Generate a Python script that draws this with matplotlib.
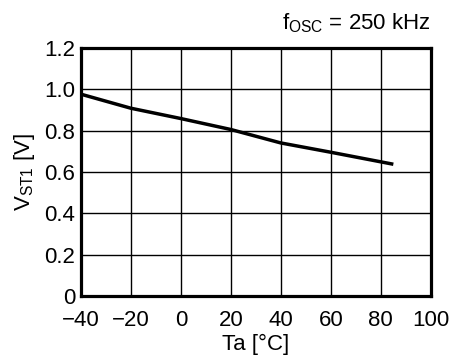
import numpy as np
import matplotlib
matplotlib.use("Agg")
import matplotlib.pyplot as plt

plt.rcParams['font.family'] = ['Liberation Sans', 'DejaVu Sans']
plt.rcParams['mathtext.fontset'] = 'custom'
plt.rcParams['mathtext.rm'] = 'Liberation Sans'
plt.rcParams['mathtext.it'] = 'Liberation Sans'

# datos
temp = [-40, -20, 0, 20, 40, 60, 85]
vst1 = [0.976, 0.908, 0.858, 0.805, 0.740, 0.695, 0.637]

x_ticks = [-40, -20, 0, 20, 40, 60, 80, 100]
y_ticks = [0, 0.2, 0.4, 0.6, 0.8, 1.0, 1.2]
y_labels = ['0', '0.2', '0.4', '0.6', '0.8', '1.0', '1.2']

fig = plt.figure(figsize=(4.54, 3.57), dpi=100)
ax = fig.add_axes([0.178, 0.171, 0.771, 0.695])

ax.plot(temp, vst1, color='black', lw=2.5, solid_capstyle='butt')

ax.set_xlim(-40, 100)
ax.set_ylim(0, 1.2)
ax.set_xticks(x_ticks)
ax.set_yticks(y_ticks)
ax.set_yticklabels(y_labels)
ax.grid(True, color='black', lw=1.0)
ax.tick_params(length=0, labelsize=16)
ax.tick_params(axis='x', pad=10)
ax.tick_params(axis='y', pad=4)
for s in ax.spines.values():
    s.set_linewidth(2.3)

ax.set_xlabel('Ta [°C]', fontsize=16, labelpad=2)
ax.set_ylabel(r'V$_{\mathrm{ST1}}$ [V]', fontsize=16, labelpad=5)
ax.text(1.0, 1.05, r'f$_{\mathrm{OSC}}$ = 250 kHz', transform=ax.transAxes,
        ha='right', va='bottom', fontsize=16)

fig.savefig('out.png', dpi=100)
